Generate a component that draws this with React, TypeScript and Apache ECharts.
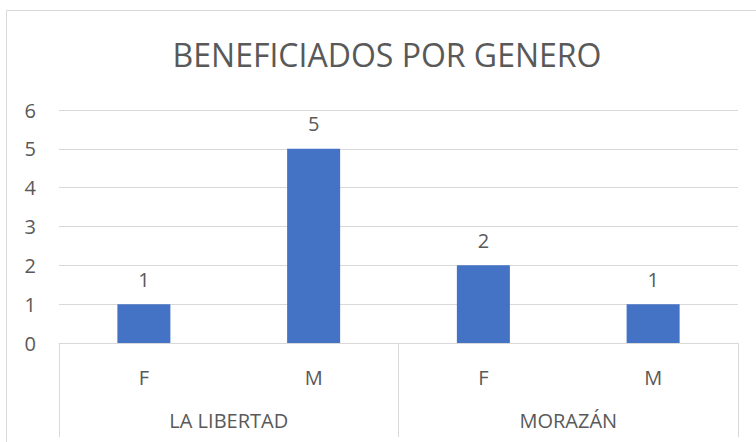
import React, { useEffect, useRef } from "react";
import * as echarts from "echarts";

const genders = ["F", "M", "F", "M"];
const regions = ["LA LIBERTAD", "MORAZÁN"];
const beneficiados = [1, 5, 2, 1];
const yTicks = { min: 0, max: 6, interval: 1 };
const titleText = "BENEFICIADOS POR GENERO";

const FONT = "'Open Sans', 'Liberation Sans', sans-serif";
const TEXT = "#595959";
const GRID = "#d9d9d9";

export default function App() {
  const ref = useRef<HTMLDivElement>(null);
  useEffect(() => {
    if (!ref.current) return;
    const chart = echarts.init(ref.current, null, { renderer: "svg" });
    chart.setOption({
      animation: false,
      backgroundColor: "#ffffff",
      textStyle: { fontFamily: FONT },
      title: {
        text: titleText,
        left: 387,
        top: 38,
        padding: 0,
        textAlign: "center",
        textStyle: { fontFamily: FONT, fontSize: 32, fontWeight: "normal", color: TEXT },
      },
      graphic: [
        {
          type: "rect",
          shape: { x: 6.5, y: 10.5, width: 800, height: 500 },
          style: { fill: "none", stroke: GRID, lineWidth: 1 },
          silent: true,
        },
      ],
      grid: { left: 59, right: 18, top: 110, bottom: 99, containLabel: false },
      xAxis: [
        {
          type: "category",
          data: genders,
          position: "bottom",
          axisLine: { show: true, lineStyle: { color: GRID, width: 1 } },
          axisTick: { show: false },
          axisLabel: { color: TEXT, fontSize: 20, fontFamily: FONT, margin: 24, interval: 0 },
        },
        {
          type: "category",
          data: regions,
          position: "bottom",
          offset: 0,
          axisLine: { show: false },
          axisTick: { show: true, length: 94, interval: 0, lineStyle: { color: GRID, width: 1 } },
          axisLabel: { color: TEXT, fontSize: 20, fontFamily: FONT, margin: 67, interval: 0 },
        },
      ],
      yAxis: {
        type: "value",
        min: yTicks.min,
        max: yTicks.max,
        interval: yTicks.interval,
        axisLine: { show: false },
        axisTick: { show: false },
        splitLine: { lineStyle: { color: GRID, width: 1 } },
        axisLabel: { color: TEXT, fontSize: 20, fontFamily: FONT, margin: 23 },
      },
      series: [
        {
          type: "bar",
          xAxisIndex: 0,
          data: beneficiados,
          barWidth: 53,
          itemStyle: { color: "#4472c4" },
          label: {
            show: true,
            position: "top",
            distance: 15,
            color: TEXT,
            fontSize: 20,
            fontFamily: FONT,
          },
        },
      ],
    });
    return () => chart.dispose();
  }, []);
  return (
    <div
      ref={ref}
      style={{ position: "fixed", left: 0, top: 0, width: 756, height: 442 }}
    />
  );
}
